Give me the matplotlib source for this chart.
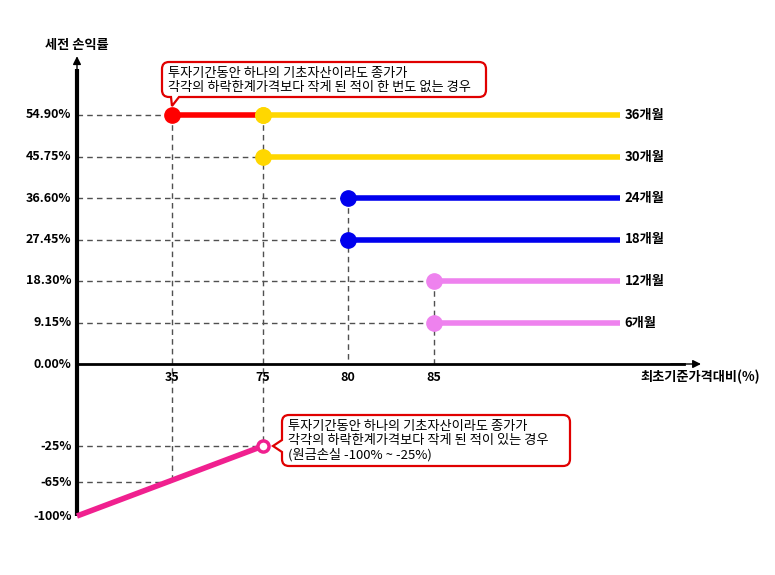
import numpy as np
import matplotlib
matplotlib.use("Agg")
import matplotlib.pyplot as plt
from matplotlib.path import Path
from matplotlib.patches import PathPatch
import matplotlib.transforms as mtransforms

plt.rcParams['font.family'] = ['Noto Sans CJK KR', 'DejaVu Sans']

# data
levels = [54.90, 45.75, 36.60, 27.45, 18.30, 9.15]
periods = ["36개월", "30개월", "24개월", "18개월", "12개월", "6개월"]
barrier = [75, 75, 80, 80, 85, 85]
colors = ["#FFD700", "#FFD700", "#0000EE", "#0000EE", "#EE82EE", "#EE82EE"]
early_x = [35, 75]          # red segment for 36개월
early_y = 54.90
loss_x = [0, 75]
loss_y = [-100, -25]
loss_ticks = [-25, -65, -100]
loss_tick_x = [75, 35, 0]
x_ticks = [35, 75, 80, 85]
line_end = 100

# schematic (non-linear) scales: value -> pixel position
xb = np.array([-85, 0, 35, 75, 80, 85, 100, 110, 120])
xp = np.array([0, 77, 172, 263, 348, 434, 620, 700, 775])
yb = np.array([-161, -100, -65, -25, 0, 54.9, 80.3])
yp = np.array([0, 59, 93, 129, 211, 460, 575])

def fx(v):
    return np.interp(v, xb, xp)

def ix(p):
    return np.interp(p, xp, xb)

def fy(v):
    return np.interp(v, yb, yp)

def iy(p):
    return np.interp(p, yp, yb)

fig = plt.figure(figsize=(7.75, 5.75), dpi=100)
ax = fig.add_axes([0, 0, 1, 1])
ax.set_xscale('function', functions=(fx, ix))
ax.set_yscale('function', functions=(fy, iy))
ax.set_xlim(-85, 120)
ax.set_ylim(-161, 80.3)
ax.axis('off')

dash = dict(color="#505050", lw=1, ls=(0, (4, 3)), zorder=1)

# horizontal guide lines
guide_x = [35] + barrier[1:]
for y, gx in zip(levels, guide_x):
    ax.plot([0, gx], [y, y], **dash)
for y, gx in zip(loss_ticks[:2], loss_tick_x[:2]):
    ax.plot([0, gx], [y, y], **dash)

# vertical guide lines
ax.plot([35, 35], [54.90, -65], **dash)
ax.plot([75, 75], [54.90, -25], **dash)
ax.plot([80, 80], [36.60, 0], **dash)
ax.plot([85, 85], [18.30, 0], **dash)

# axes with arrows
ax.plot([0, 0], [-100, 65], color="black", lw=3, zorder=3, solid_capstyle='butt')
ax.annotate("", xy=(0, 68.5), xytext=(0, 63),
            arrowprops=dict(arrowstyle="-|>", color="black", lw=1, mutation_scale=12))
ax.plot([0, 108], [0, 0], color="black", lw=2, zorder=3)
ax.annotate("", xy=(110.5, 0), xytext=(106, 0),
            arrowprops=dict(arrowstyle="-|>", color="black", lw=1, mutation_scale=12))

# payoff lines
for y, bx, c, lab in zip(levels, barrier, colors, periods):
    ax.plot([bx, line_end], [y, y], color=c, lw=4, zorder=4, solid_capstyle='butt')
    ax.plot(bx, y, 'o', color=c, ms=11, zorder=5)
    ax.text(line_end + 0.6, y, lab, fontsize=9.5, fontweight='bold', va='center', ha='left')
ax.plot(early_x, [early_y, early_y], color="red", lw=4, zorder=4, solid_capstyle='butt')
ax.plot(early_x[0], early_y, 'o', color="red", ms=11, zorder=6)
ax.plot(early_x[1], early_y, 'o', color="#FFD700", ms=11, zorder=6)

ax.plot(loss_x, loss_y, color="#F0208F", lw=4, zorder=4, solid_capstyle='butt')
ax.plot(loss_x[1], loss_y[1], 'o', mfc="white", mec="#F0208F", mew=2.5, ms=8, zorder=6)

# tick labels
tick_style = dict(fontsize=9, fontweight='bold', ha='right', va='center',
                  textcoords='offset points', xytext=(-4, 0))
for y in levels + [0]:
    ax.annotate(f"{y:.2f}%", xy=(0, y), **tick_style)
for y in loss_ticks:
    ax.annotate(f"{y}%", xy=(0, y), **tick_style)
for x in x_ticks:
    ax.text(x, -4, str(x), fontsize=9, fontweight='bold', ha='center', va='center')

ax.text(0, 70.3, "세전 손익률", fontsize=9.5, fontweight='bold', ha='center', va='center')
ax.text(110, -4, "최초기준가격대비(%)", fontsize=9.5, fontweight='bold', ha='center', va='center')

# callout boxes in pixel coordinates (origin top-left)
pix = mtransforms.Affine2D().scale(1 / 775, -1 / 575).translate(0, 1) + fig.transFigure


def callout(x0, y0, x1, y1, tip, base, r=7):
    # rounded box; pointer given by tip point and two base points on an edge
    verts = []
    codes = []
    verts += [(x0 + r, y0)]
    codes += [Path.MOVETO]
    verts += [(x1 - r, y0), (x1, y0), (x1, y0 + r)]
    codes += [Path.LINETO, Path.CURVE3, Path.CURVE3]
    verts += [(x1, y1 - r), (x1, y1), (x1 - r, y1)]
    codes += [Path.LINETO, Path.CURVE3, Path.CURVE3]
    if base == 'bottom':
        bx = tip[0]
        verts += [(bx + 7, y1), tip, (bx - 1, y1)]
        codes += [Path.LINETO] * 3
    verts += [(x0 + r, y1), (x0, y1), (x0, y1 - r)]
    codes += [Path.LINETO, Path.CURVE3, Path.CURVE3]
    if base == 'left':
        by = tip[1]
        verts += [(x0, by + 6), tip, (x0, by - 6)]
        codes += [Path.LINETO] * 3
    verts += [(x0, y0 + r), (x0, y0), (x0 + r, y0)]
    codes += [Path.LINETO, Path.CURVE3, Path.CURVE3]
    verts += [(x0 + r, y0)]
    codes += [Path.CLOSEPOLY]
    patch = PathPatch(Path(verts, codes), facecolor="white", edgecolor="#E00000",
                      lw=1.6, transform=pix, zorder=7)
    fig.add_artist(patch)


callout(162, 62, 486, 97, (172, 106), 'bottom')
fig.text(168 / 775, 1 - 80 / 575,
         "투자기간동안 하나의 기초자산이라도 종가가\n각각의 하락한계가격보다 작게 된 적이 한 번도 없는 경우",
         fontsize=9.5, va='center', ha='left', linespacing=1.1, zorder=8)

callout(282, 415, 570, 466, (273, 446), 'left')
fig.text(288 / 775, 1 - 441 / 575,
         "투자기간동안 하나의 기초자산이라도 종가가\n각각의 하락한계가격보다 작게 된 적이 있는 경우\n(원금손실 -100% ~ -25%)",
         fontsize=9.5, va='center', ha='left', linespacing=1.1, zorder=8)

fig.savefig("out.png", dpi=100)
